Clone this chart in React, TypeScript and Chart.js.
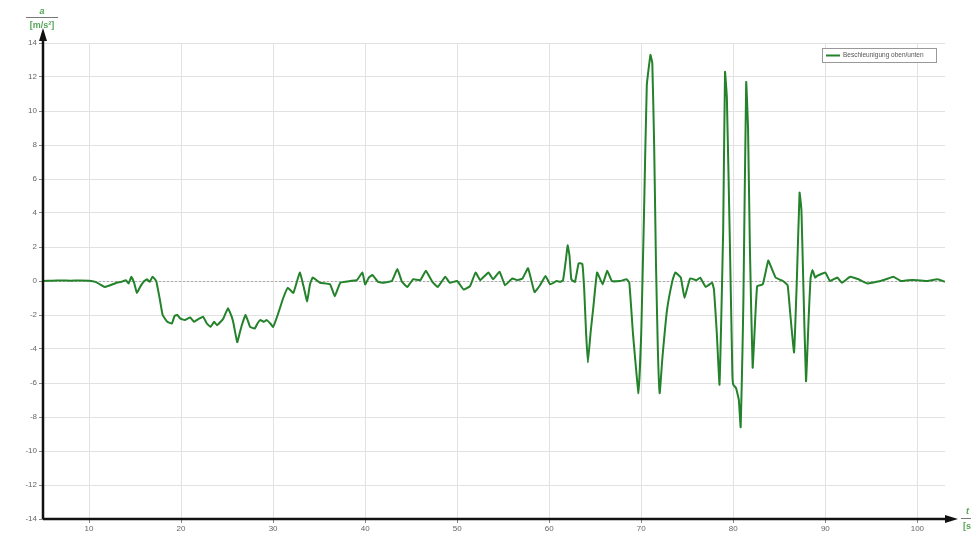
import React, { useEffect, useRef } from "react";
import { Chart, registerables } from "chart.js";

Chart.register(...registerables);

const times: number[] = [
  5.0, 6, 7, 8, 9, 10, 10.7, 11.2, 11.7, 12.3, 13.0, 13.5, 14.0, 14.3, 14.6, 14.9, 15.2, 15.6, 16.0, 16.3,
  16.6, 16.9, 17.3, 17.7, 18.0, 18.5, 19.0, 19.3, 19.6, 19.9, 20.4, 21.0, 21.4, 21.7, 22.0, 22.4, 22.8, 23.2,
  23.6, 23.9, 24.3, 24.6, 25.1, 25.5, 25.7, 26.1, 26.4, 26.6, 27.0, 27.3, 27.5, 28.0, 28.3, 28.6, 29.0, 29.3,
  29.7, 30.0, 30.5, 31.1, 31.6, 32.2, 32.9, 33.3, 33.7, 34.0, 34.3, 35.1, 36.2, 36.7, 37.3, 38.4, 39.1, 39.7,
  40.0, 40.4, 40.8, 41.4, 42.0, 42.9, 43.5, 44.0, 44.6, 45.2, 46.0, 46.6, 47.3, 47.9, 48.7, 49.2, 50.0, 50.7,
  51.4, 52.0, 52.5, 53.4, 53.9, 54.6, 55.2, 56.0, 56.5, 57.1, 57.7, 58.4, 59.0, 59.6, 60.1, 60.8, 61.2, 61.5,
  61.8, 62.0, 62.2, 62.4, 62.8, 63.2, 63.6, 63.8, 64.0, 64.2, 64.5, 64.8, 65.2, 65.8, 66.3, 66.8, 67.7, 68.4,
  68.7, 69.1, 69.7, 70.0, 70.3, 70.6, 71.0, 71.2, 71.4, 71.6, 71.8, 72.0, 72.3, 72.8, 73.4, 73.7, 74.3, 74.7,
  75.3, 76.0, 76.4, 77.0, 77.7, 77.9, 78.2, 78.5, 78.7, 78.9, 79.1, 79.3, 79.6, 79.9, 80.0, 80.3, 80.6, 80.8,
  81.0, 81.1, 81.4, 81.6, 81.8, 82.1, 82.4, 82.6, 83.2, 83.8, 84.2, 84.6, 85.4, 85.9, 86.2, 86.6, 86.9, 87.2,
  87.4, 87.6, 87.9, 88.2, 88.4, 88.6, 88.9, 89.1, 89.5, 90.0, 90.5, 91.3, 91.8, 92.7, 93.6, 94.6, 95.1, 96.0,
  96.6, 97.4, 98.2, 99.0, 100.0, 101.1, 102.2, 103.0,
];

const accel: number[] = [
  0, 0.02, 0.03, 0.02, 0.03, 0.02, -0.05, -0.2, -0.35, -0.25, -0.1, -0.05, 0.05, -0.15, 0.25, -0.1, -0.7, -0.3, 0.0, 0.1,
  -0.05, 0.25, 0.0, -1.1, -2.0, -2.4, -2.5, -2.05, -2.0, -2.2, -2.3, -2.15, -2.4, -2.3, -2.2, -2.1, -2.5, -2.7,
  -2.4, -2.6, -2.4, -2.2, -1.6, -2.1, -2.5, -3.6, -3.0, -2.6, -2.0, -2.4, -2.7, -2.8, -2.5, -2.3, -2.4, -2.3,
  -2.5, -2.7, -2.0, -1.0, -0.4, -0.7, 0.5, -0.3, -1.2, -0.2, 0.2, -0.1, -0.2, -0.9, -0.1, 0.0, 0.05, 0.5,
  -0.2, 0.2, 0.35, -0.05, -0.1, 0.0, 0.7, -0.05, -0.35, 0.1, 0.05, 0.6, -0.05, -0.35, 0.25, -0.1, 0.0, -0.5,
  -0.3, 0.5, 0.05, 0.5, 0.1, 0.55, -0.25, 0.15, 0.05, 0.15, 0.75, -0.65, -0.25, 0.3, -0.2, 0.0, -0.05, 0.05,
  1.2, 2.1, 1.5, 0.1, -0.05, 1.05, 1.0, -0.5, -3.0, -4.8, -3.0, -1.5, 0.5, -0.2, 0.6, 0.0, 0.0, 0.1,
  -0.1, -3.1, -6.6, -3.0, 4.0, 11.5, 13.3, 12.8, 8.0, 1.0, -4.0, -6.6, -4.5, -1.7, 0.05, 0.5, 0.2, -1.0,
  0.15, 0.05, 0.2, -0.35, -0.1, -0.5, -3.0, -6.1, -2.0, 3.0, 12.3, 10.8, 3.0, -5.5, -6.1, -6.3, -7.0, -8.6,
  -4.0, -1.0, 11.7, 9.0, 2.0, -5.1, -2.0, -0.3, -0.2, 1.2, 0.7, 0.2, 0.0, -0.25, -2.0, -4.2, 0.0, 5.2,
  4.2, 0.0, -5.9, -2.0, 0.2, 0.65, 0.2, 0.3, 0.4, 0.5, 0.0, 0.2, -0.1, 0.25, 0.1, -0.15, -0.1, 0.0,
  0.1, 0.25, 0.0, 0.05, 0.05, 0.0, 0.1, -0.05,
];

const xTickValues: number[] = [10, 20, 30, 40, 50, 60, 70, 80, 90, 100];
const seriesName = "Beschleunigung oben/unten";
const yTitleTop = "a";
const yTitleUnit = "[m/s²]";
const xTitleTop = "t";
const xTitleUnit = "[s]";

const GREEN = "#23822a";
const TITLE_GREEN = "#55a555";

const decorPlugin = {
  id: "decor",
  beforeDatasetsDraw(chart: any) {
    const { ctx, chartArea, scales } = chart;
    const y0 = scales.y.getPixelForValue(0);
    ctx.save();
    ctx.strokeStyle = "#aaaaaa";
    ctx.lineWidth = 1;
    ctx.setLineDash([2, 2]);
    ctx.beginPath();
    ctx.moveTo(chartArea.left, y0 + 0.5);
    ctx.lineTo(chartArea.right, y0 + 0.5);
    ctx.stroke();
    ctx.restore();
  },
  afterDraw(chart: any) {
    const { ctx, chartArea } = chart;
    const L = chartArea.left;
    const B = chartArea.bottom;
    ctx.save();
    ctx.strokeStyle = "#111";
    ctx.fillStyle = "#111";
    ctx.lineWidth = 2.5;
    ctx.beginPath();
    ctx.moveTo(L, B);
    ctx.lineTo(L, 38);
    ctx.moveTo(L, B);
    ctx.lineTo(948, B);
    ctx.stroke();
    ctx.beginPath();
    ctx.moveTo(L, 28);
    ctx.lineTo(L - 4, 41);
    ctx.lineTo(L + 4, 41);
    ctx.closePath();
    ctx.fill();
    ctx.beginPath();
    ctx.moveTo(958, B);
    ctx.lineTo(945, B - 4);
    ctx.lineTo(945, B + 4);
    ctx.closePath();
    ctx.fill();

    ctx.fillStyle = TITLE_GREEN;
    ctx.textAlign = "center";
    ctx.textBaseline = "middle";
    ctx.font = "italic bold 9px 'Liberation Sans', Arial, sans-serif";
    ctx.fillText(yTitleTop, 42, 12);
    ctx.strokeStyle = "#777";
    ctx.lineWidth = 1;
    ctx.beginPath();
    ctx.moveTo(26, 17.5);
    ctx.lineTo(58, 17.5);
    ctx.stroke();
    ctx.font = "bold 9px 'Liberation Sans', Arial, sans-serif";
    ctx.fillText(yTitleUnit, 42, 26);

    ctx.textAlign = "left";
    ctx.font = "italic bold 9px 'Liberation Sans', Arial, sans-serif";
    ctx.fillText(xTitleTop, 966, 512);
    ctx.beginPath();
    ctx.moveTo(961, 518.5);
    ctx.lineTo(971, 518.5);
    ctx.stroke();
    ctx.font = "bold 9px 'Liberation Sans', Arial, sans-serif";
    ctx.fillText(xTitleUnit, 963, 527);

    const bx = 822, by = 48, bw = 114, bh = 14;
    ctx.fillStyle = "#ffffff";
    ctx.fillRect(bx, by, bw, bh);
    ctx.strokeStyle = "#999";
    ctx.lineWidth = 1;
    ctx.strokeRect(bx + 0.5, by + 0.5, bw, bh);
    ctx.strokeStyle = GREEN;
    ctx.lineWidth = 2;
    ctx.beginPath();
    ctx.moveTo(bx + 4, by + 7.5);
    ctx.lineTo(bx + 18, by + 7.5);
    ctx.stroke();
    ctx.fillStyle = "#555";
    ctx.font = "6.5px 'Liberation Sans', Arial, sans-serif";
    ctx.textAlign = "left";
    ctx.textBaseline = "middle";
    ctx.fillText(seriesName, bx + 21, by + 7.5);
    ctx.restore();
  },
};

export default function App() {
  const ref = useRef<HTMLCanvasElement | null>(null);
  useEffect(() => {
    if (!ref.current) return;
    const points = times.map((t, i) => ({ x: t, y: accel[i] }));
    const chart = new Chart(ref.current, {
      type: "line",
      data: {
        datasets: [
          {
            label: seriesName,
            data: points,
            borderColor: GREEN,
            borderWidth: 2,
            pointRadius: 0,
            tension: 0.1,
            fill: false,
          },
        ],
      },
      options: {
        animation: false,
        responsive: false,
        maintainAspectRatio: false,
        layout: { padding: { top: 43, right: 26, left: 0, bottom: 0 } },
        plugins: { legend: { display: false }, tooltip: { enabled: false } },
        scales: {
          x: {
            type: "linear",
            min: 5,
            max: 103,
            border: { display: false },
            afterBuildTicks: (scale: any) => {
              scale.ticks = xTickValues.map((v) => ({ value: v }));
            },
            afterFit: (scale: any) => {
              scale.height = 16;
            },
            grid: { color: "#e2e2e2", tickColor: "#888", tickLength: 4, lineWidth: 1 },
            ticks: {
              color: "#666",
              font: { family: "'Liberation Sans', Arial, sans-serif", size: 8 },
              padding: 1,
              maxRotation: 0,
              autoSkip: false,
            },
          },
          y: {
            min: -14,
            max: 14,
            border: { display: false },
            afterFit: (scale: any) => {
              scale.width = 43;
            },
            grid: { color: "#e2e2e2", tickColor: "#888", tickLength: 4, lineWidth: 1 },
            ticks: {
              stepSize: 2,
              color: "#666",
              font: { family: "'Liberation Sans', Arial, sans-serif", size: 8 },
              padding: 2,
            },
          },
        },
      },
      plugins: [decorPlugin],
    });
    return () => chart.destroy();
  }, []);
  return (
    <div style={{ position: "absolute", left: 0, top: 0, width: 971, height: 535, background: "#fff" }}>
      <canvas ref={ref} width={971} height={535} style={{ width: 971, height: 535 }} />
    </div>
  );
}
